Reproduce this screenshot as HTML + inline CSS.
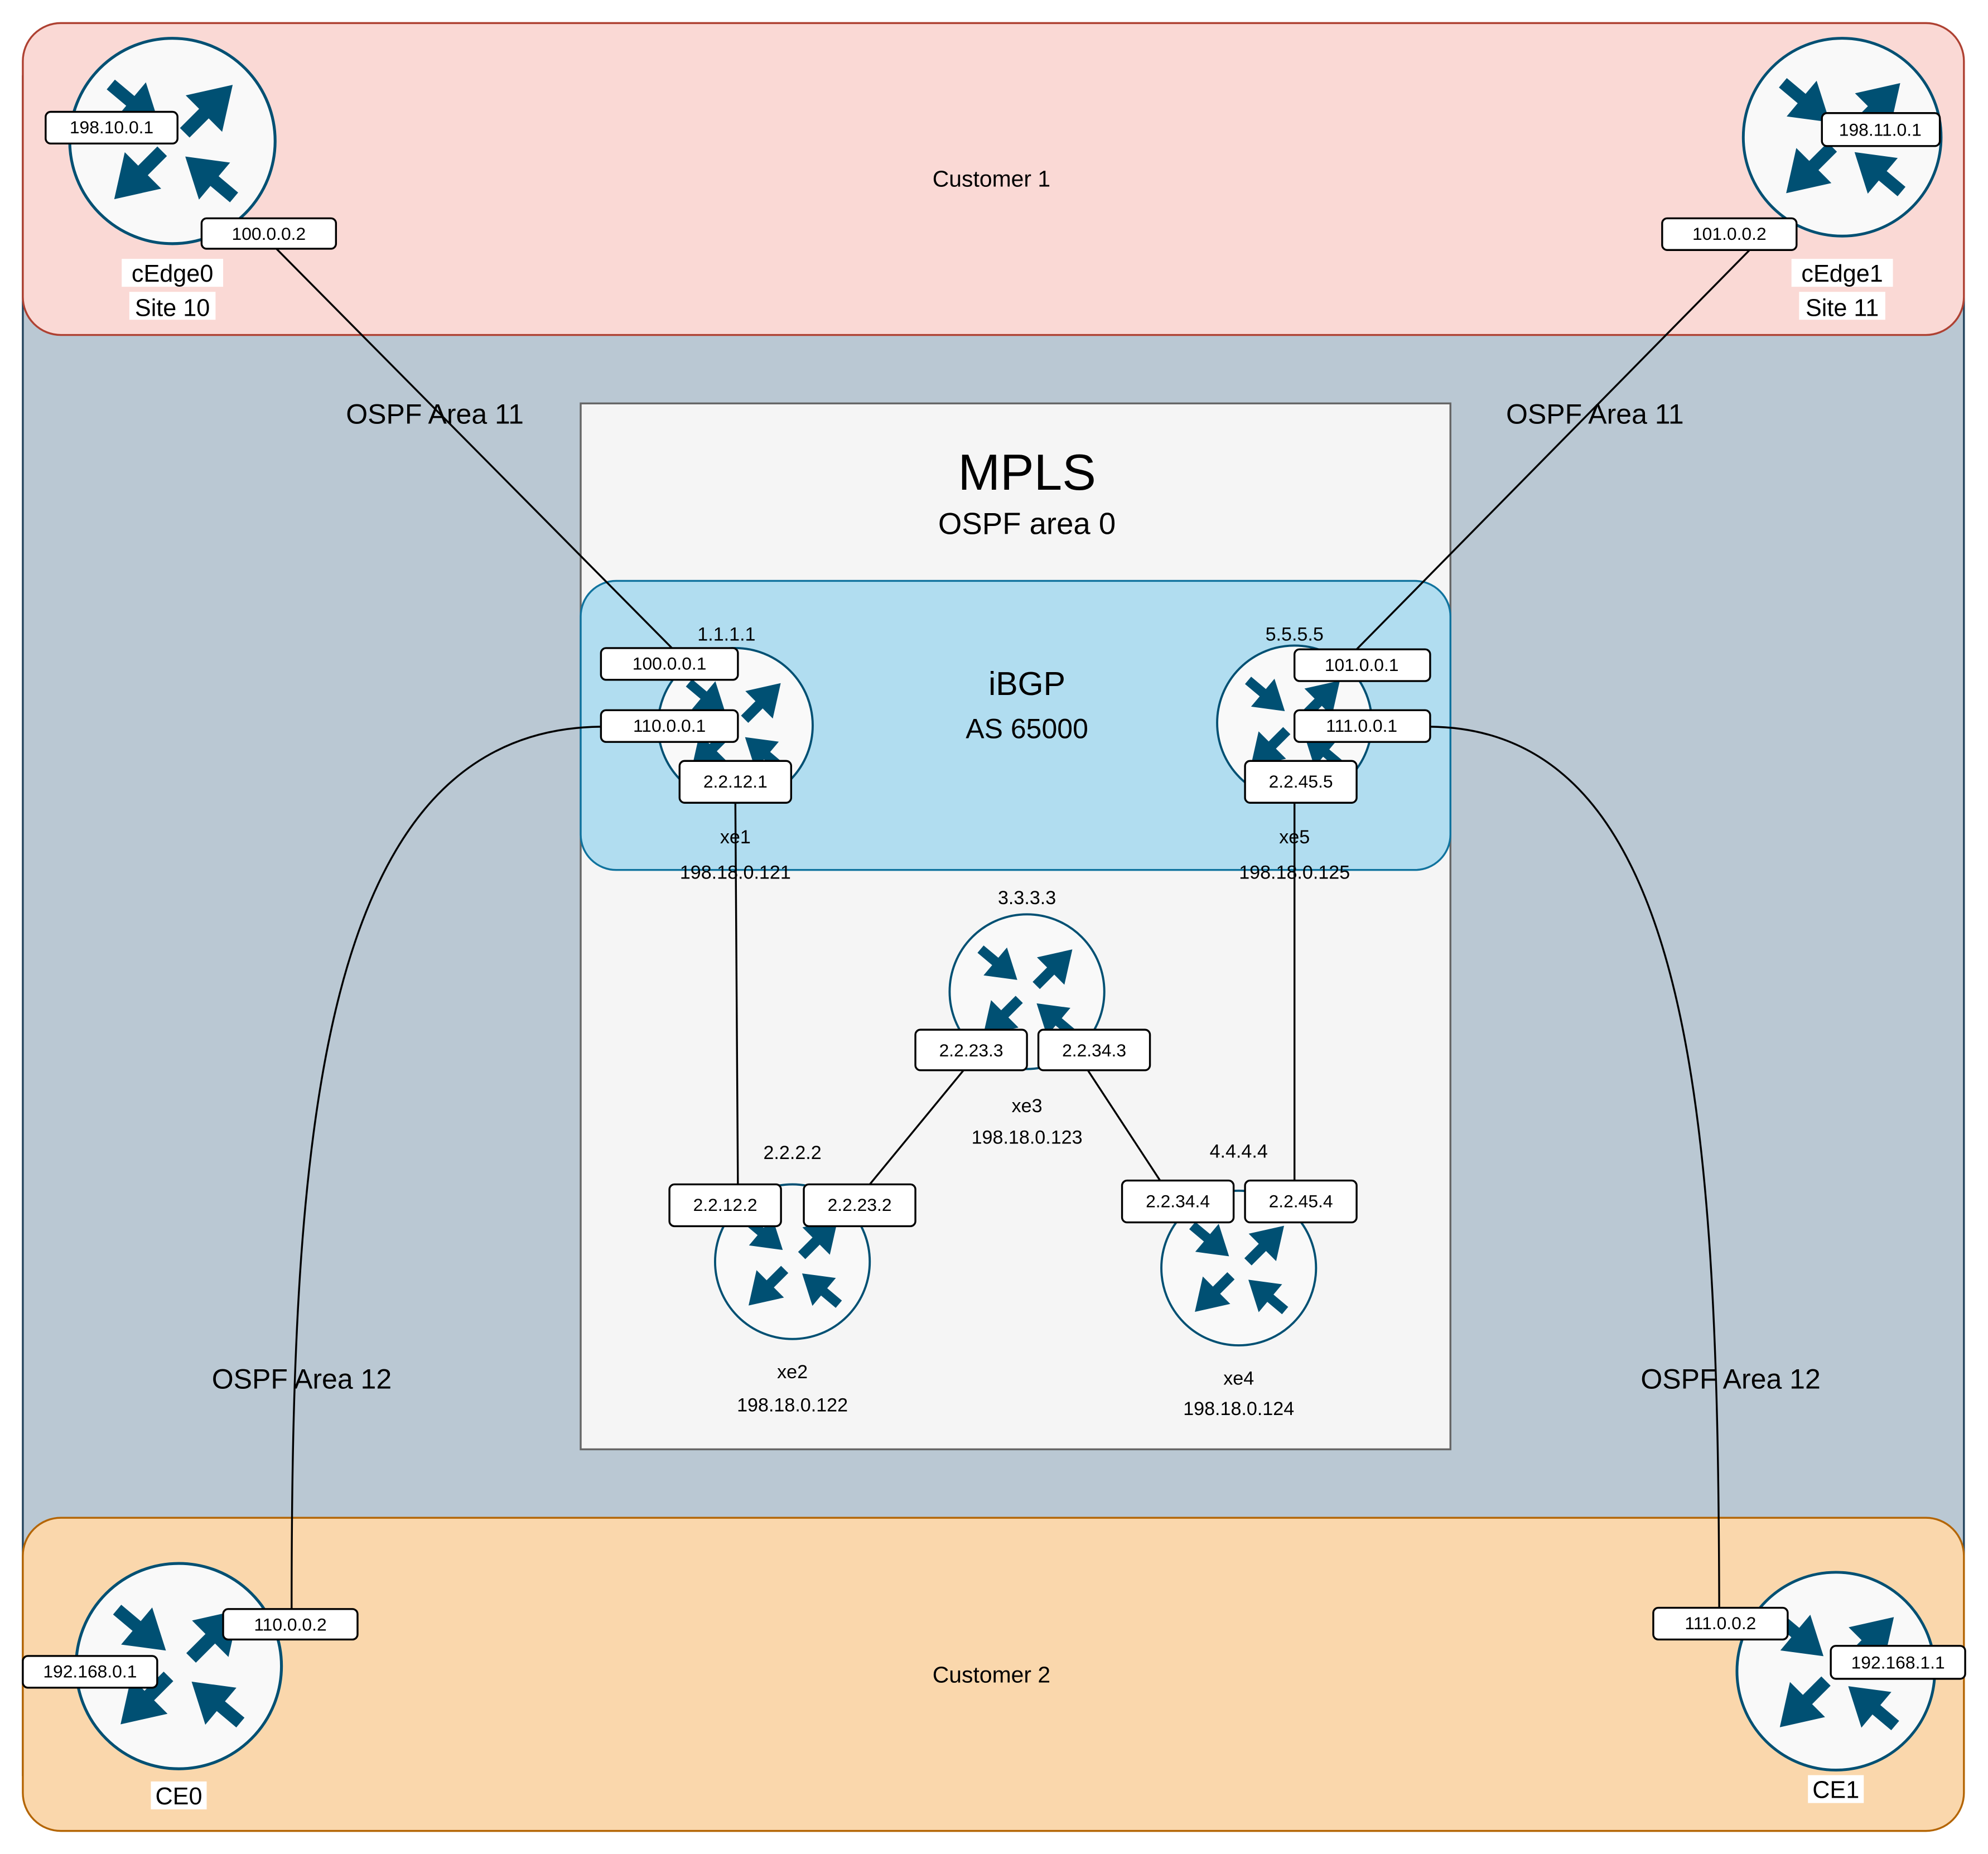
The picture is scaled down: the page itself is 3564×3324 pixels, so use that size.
<!DOCTYPE html>
<html><head><meta charset="utf-8"><style>
html,body{margin:0;padding:0;background:#fff;}
svg{display:block;}
text{font-family:"Liberation Sans",Arial,sans-serif;fill:#000;}
.lb rect{fill:#fff;stroke:#000;stroke-width:1.5;}
.lb text{font-size:14px;text-anchor:middle;}
.sm{font-size:15px;text-anchor:middle;}
</style></head><body>
<svg width="3564" height="3324" viewBox="0 0 1568 1462" xmlns="http://www.w3.org/2000/svg">
<defs>
<polygon id="ar" points="0,-0.1 0.4,-0.1 0.4,-0.38 1,0 0.4,0.38 0.4,0.1 0,0.1" fill="#005073"/>
<g id="rt">
<circle r="1" fill="#f9f9f9" stroke="#005073" stroke-width="0.028"/>
<use href="#ar" transform="translate(-0.6,-0.55) rotate(40) scale(0.62)"/>
<use href="#ar" transform="translate(0.12,-0.08) rotate(-45) scale(0.66)"/>
<use href="#ar" transform="translate(-0.1,0.1) rotate(135) scale(0.66)"/>
<use href="#ar" transform="translate(0.6,0.55) rotate(220) scale(0.62)"/>
</g>
</defs>
<rect x="18" y="60" width="1531" height="1340" fill="#bac8d3" stroke="#23445d" stroke-width="1.5"/>
<rect x="18" y="18" width="1531" height="246" rx="30" fill="#fad9d5" stroke="#ae4132" stroke-width="1.5"/>
<rect x="18" y="1197" width="1531" height="247" rx="30" fill="#fad7ac" stroke="#b46504" stroke-width="1.5"/>
<rect x="458" y="318" width="686" height="825" fill="#f5f5f5" stroke="#666" stroke-width="1.5"/>
<rect x="458" y="458" width="686" height="228" rx="28" fill="#b1ddf0" stroke="#10739e" stroke-width="1.5"/>

<text x="810" y="386" font-size="40" text-anchor="middle">MPLS</text>
<text x="810" y="421" font-size="24" text-anchor="middle">OSPF area 0</text>
<text x="810" y="548" font-size="26" text-anchor="middle">iBGP</text>
<text x="810" y="582" font-size="22" text-anchor="middle">AS 65000</text>
<text x="782" y="147" font-size="18" text-anchor="middle">Customer 1</text>
<text x="782" y="1327" font-size="18" text-anchor="middle">Customer 2</text>
<text x="343" y="334" font-size="22" text-anchor="middle">OSPF Area 11</text>
<text x="1258" y="334" font-size="22" text-anchor="middle">OSPF Area 11</text>
<text x="238" y="1095" font-size="22" text-anchor="middle">OSPF Area 12</text>
<text x="1365" y="1095" font-size="22" text-anchor="middle">OSPF Area 12</text>

<g fill="none" stroke="#000" stroke-width="1.5">
<path d="M218,196 L530,511"/>
<path d="M1380,197 L1070,512"/>
<path d="M474,573 C250,575 230,900 230,1269"/>
<path d="M1128,573 C1340,575 1355,900 1356,1268"/>
<path d="M580,633 L582,934"/>
<path d="M1021,633 L1021,931"/>
<path d="M760,844 L686,934"/>
<path d="M858,844 L915,931"/>
</g>

<use href="#rt" transform="translate(136,111) scale(81)"/>
<use href="#rt" transform="translate(1453,108) scale(78)"/>
<use href="#rt" transform="translate(141,1314) scale(81)"/>
<use href="#rt" transform="translate(1448,1318) scale(78)"/>
<use href="#rt" transform="translate(580,572) scale(61)"/>
<use href="#rt" transform="translate(1021,570) scale(61)"/>
<use href="#rt" transform="translate(810,782) scale(61)"/>
<use href="#rt" transform="translate(625,995) scale(61)"/>
<use href="#rt" transform="translate(977,1000) scale(61)"/>

<g font-size="19" text-anchor="middle">
<rect x="96" y="204" width="80" height="22" fill="#fff"/><rect x="102" y="230" width="68" height="22" fill="#fff"/>
<text x="136" y="222">cEdge0</text><text x="136" y="249">Site 10</text>
<rect x="1413" y="204" width="80" height="22" fill="#fff"/><rect x="1419" y="230" width="68" height="22" fill="#fff"/>
<text x="1453" y="222">cEdge1</text><text x="1453" y="249">Site 11</text>
<rect x="119" y="1405" width="44" height="22" fill="#fff"/><text x="141" y="1423">CE0</text>
<rect x="1426" y="1400" width="44" height="22" fill="#fff"/><text x="1448" y="1418">CE1</text>
</g>

<g class="sm">
<text x="573" y="505">1.1.1.1</text><text x="1021" y="505">5.5.5.5</text>
<text x="580" y="665">xe1</text><text x="580" y="693">198.18.0.121</text>
<text x="1021" y="665">xe5</text><text x="1021" y="693">198.18.0.125</text>
<text x="810" y="713">3.3.3.3</text>
<text x="810" y="877">xe3</text><text x="810" y="902">198.18.0.123</text>
<text x="625" y="914">2.2.2.2</text>
<text x="625" y="1087">xe2</text><text x="625" y="1113">198.18.0.122</text>
<text x="977" y="913">4.4.4.4</text>
<text x="977" y="1092">xe4</text><text x="977" y="1116">198.18.0.124</text>
</g>

<g class="lb">
<rect x="36" y="88" width="104" height="25" rx="4"/><text x="88" y="105">198.10.0.1</text>
<rect x="159" y="172" width="106" height="24" rx="4"/><text x="212" y="189">100.0.0.2</text>
<rect x="1437" y="89" width="93" height="26" rx="4"/><text x="1483" y="107">198.11.0.1</text>
<rect x="1311" y="172" width="106" height="25" rx="4"/><text x="1364" y="189">101.0.0.2</text>
<rect x="474" y="511" width="108" height="25" rx="4"/><text x="528" y="528">100.0.0.1</text>
<rect x="474" y="560" width="108" height="25" rx="4"/><text x="528" y="577">110.0.0.1</text>
<rect x="536" y="600" width="88" height="33" rx="4"/><text x="580" y="621">2.2.12.1</text>
<rect x="1021" y="512" width="107" height="25" rx="4"/><text x="1074" y="529">101.0.0.1</text>
<rect x="1021" y="560" width="107" height="25" rx="4"/><text x="1074" y="577">111.0.0.1</text>
<rect x="982" y="600" width="88" height="33" rx="4"/><text x="1026" y="621">2.2.45.5</text>
<rect x="722" y="812" width="88" height="32" rx="4"/><text x="766" y="833">2.2.23.3</text>
<rect x="819" y="812" width="88" height="32" rx="4"/><text x="863" y="833">2.2.34.3</text>
<rect x="528" y="934" width="88" height="33" rx="4"/><text x="572" y="955">2.2.12.2</text>
<rect x="634" y="934" width="88" height="33" rx="4"/><text x="678" y="955">2.2.23.2</text>
<rect x="885" y="931" width="88" height="33" rx="4"/><text x="929" y="952">2.2.34.4</text>
<rect x="982" y="931" width="88" height="33" rx="4"/><text x="1026" y="952">2.2.45.4</text>
<rect x="176" y="1269" width="106" height="24" rx="4"/><text x="229" y="1286">110.0.0.2</text>
<rect x="18" y="1306" width="106" height="25" rx="4"/><text x="71" y="1323">192.168.0.1</text>
<rect x="1304" y="1268" width="106" height="25" rx="4"/><text x="1357" y="1285">111.0.0.2</text>
<rect x="1444" y="1298" width="106" height="26" rx="4"/><text x="1497" y="1316">192.168.1.1</text>
</g>
</svg>
</body></html>
